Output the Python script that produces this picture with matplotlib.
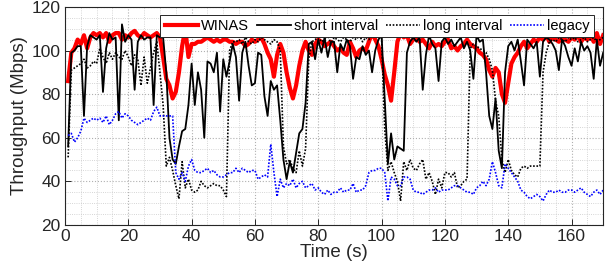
import matplotlib.pyplot as plt
import numpy as np
from matplotlib.ticker import MultipleLocator

plt.rcParams['font.family'] = ['Liberation Sans', 'DejaVu Sans']

time_s = np.arange(1, 171)

winas = [
    86, 99, 101, 105, 103, 107, 101, 106, 108, 107,
    108, 106, 108, 104, 107, 108, 108, 105, 107, 106,
    108, 109, 107, 106, 108, 107, 106, 107, 108, 106,
    97, 87, 84, 78, 81, 90, 102, 110, 97, 103,
    103, 104, 104, 105, 106, 105, 104, 105, 104, 105,
    105, 104, 104, 103, 104, 104, 102, 103, 105, 104,
    105, 106, 103, 99, 96, 88, 98, 103, 99, 90,
    83, 78, 84, 93, 100, 104, 100, 98, 103, 105,
    104, 102, 103, 104, 102, 100, 101, 99, 98, 104,
    101, 97, 100, 101, 100, 104, 108, 105, 102, 96,
    89, 84, 77, 90, 104, 108, 106, 107, 103, 105,
    106, 104, 105, 103, 101, 104, 102, 103, 102, 104,
    105, 101, 102, 100, 102, 103, 105, 103, 102, 101,
    99, 98, 96, 91, 88, 92, 90, 80, 76, 85,
    94, 97, 99, 102, 104, 101, 103, 105, 104, 106,
    105, 107, 104, 106, 105, 104, 107, 105, 104, 106,
    105, 107, 104, 106, 105, 107, 104, 108, 103, 107,
]

short_interval = [
    56, 99, 100, 102, 102, 70, 102, 107, 106, 105,
    107, 81, 101, 108, 105, 106, 68, 112, 104, 107,
    105, 82, 104, 107, 105, 106, 106, 75, 107, 106,
    106, 90, 60, 50, 48, 56, 63, 64, 75, 94,
    75, 90, 82, 60, 95, 94, 90, 99, 72, 96,
    88, 95, 103, 97, 77, 99, 104, 93, 84, 85,
    99, 98, 79, 70, 86, 82, 84, 68, 50, 41,
    49, 44, 53, 62, 64, 76, 103, 104, 96, 105,
    99, 106, 97, 104, 104, 90, 103, 100, 105, 102,
    87, 97, 96, 102, 98, 100, 90, 100, 105, 107,
    77, 48, 62, 50, 56, 55, 54, 99, 104, 106,
    104, 106, 82, 98, 107, 103, 101, 86, 104, 106,
    103, 105, 102, 104, 106, 101, 104, 100, 87, 107,
    104, 105, 90, 70, 64, 78, 54, 46, 90, 102,
    104, 100, 105, 95, 84, 105, 103, 101, 104, 88,
    104, 106, 105, 103, 100, 91, 105, 102, 97, 93,
    101, 95, 104, 100, 102, 99, 87, 105, 93, 99,
]

long_interval = [
    51, 91, 92, 93, 94, 96, 92, 93, 95, 94,
    101, 97, 94, 99, 96, 99, 97, 96, 100, 97,
    93, 98, 96, 84, 97, 85, 92, 99, 104, 90,
    75, 47, 51, 45, 38, 32, 49, 37, 41, 36,
    35, 36, 40, 38, 37, 38, 39, 38, 38, 36,
    33, 100, 104, 104, 105, 103, 106, 104, 103, 105,
    104, 106, 105, 104, 103, 105, 104, 100, 56, 48,
    50, 46, 44, 54, 47, 55, 96, 104, 105, 106,
    104, 105, 107, 103, 106, 105, 104, 106, 105, 104,
    106, 105, 107, 104, 106, 105, 107, 106, 108, 106,
    64, 45, 49, 44, 40, 31, 49, 45, 50, 46,
    45, 48, 50, 41, 44, 40, 34, 41, 37, 44,
    44, 42, 44, 37, 38, 40, 41, 101, 103, 102,
    101, 100, 99, 96, 91, 77, 70, 50, 44, 50,
    45, 43, 42, 46, 47, 46, 47, 47, 47, 47,
    90, 99, 104, 105, 104, 106, 105, 104, 106, 105,
    106, 104, 105, 106, 104, 105, 106, 104, 105, 106,
]

legacy = [
    61, 62, 58, 60, 63, 69, 67, 68, 69, 68,
    69, 67, 70, 66, 68, 71, 72, 69, 71, 70,
    68, 67, 66, 67, 68, 69, 68, 72, 74, 70,
    70, 70, 70, 70, 44, 41, 44, 40, 47, 50,
    45, 44, 44, 45, 46, 44, 45, 43, 42, 42,
    43, 44, 44, 46, 44, 46, 45, 44, 45, 45,
    41, 42, 43, 42, 57, 44, 33, 41, 37, 39,
    38, 41, 37, 39, 40, 37, 38, 39, 36, 37,
    35, 34, 36, 34, 35, 35, 37, 35, 36, 36,
    39, 35, 36, 36, 38, 44, 45, 45, 46, 46,
    44, 31, 42, 41, 38, 38, 42, 42, 41, 36,
    35, 35, 34, 35, 36, 36, 37, 35, 36, 36,
    36, 37, 38, 38, 37, 36, 35, 35, 34, 37,
    38, 40, 38, 41, 49, 44, 38, 37, 48, 46,
    44, 42, 40, 36, 35, 33, 32, 33, 34, 33,
    31, 34, 36, 35, 35, 36, 35, 35, 36, 36,
    35, 36, 37, 35, 34, 33, 35, 36, 34, 36,
]


def plot():
    fig = plt.figure(figsize=(6.13, 2.76), dpi=100)
    ax = fig.add_axes([0.106, 0.185, 0.878, 0.79])

    dots = (0, (1, 1))
    ax.plot(time_s, winas, color='red', lw=3.0, label='WINAS')
    ax.plot(time_s, short_interval, color='black', lw=1.3, label='short interval')
    ax.plot(time_s, long_interval, color='black', lw=1.2, ls=dots, label='long interval')
    ax.plot(time_s, legacy, color='blue', lw=1.2, ls=dots, label='legacy')

    ax.set_xlim(0, 170)
    ax.set_ylim(20, 120)
    ax.xaxis.set_major_locator(MultipleLocator(20))
    ax.yaxis.set_major_locator(MultipleLocator(20))
    ax.xaxis.set_minor_locator(MultipleLocator(5))
    ax.yaxis.set_minor_locator(MultipleLocator(5))
    ax.grid(which='major', color='#b0b0b0', ls=':', lw=0.8)
    ax.grid(which='minor', color='#c8c8c8', ls=':', lw=0.6)
    ax.tick_params(which='both', direction='in', labelsize=12.5, colors='#262626')
    ax.tick_params(which='major', length=4, width=0.7, pad=3)
    ax.tick_params(which='minor', length=0)
    for s in ax.spines.values():
        s.set_color('#262626')
        s.set_linewidth(0.8)

    ax.set_xlabel('Time (s)', fontsize=13.5, color='#262626', labelpad=0)
    ax.set_ylabel('Throughput (Mbps)', fontsize=13.5, color='#262626', labelpad=3)

    leg = ax.legend(loc='upper right', bbox_to_anchor=(0.982, 0.965), ncol=4,
                    fontsize=10.5, frameon=True, fancybox=False, framealpha=1,
                    edgecolor='#262626', handlelength=2.3, handletextpad=0.2,
                    columnspacing=0.55, borderpad=0.3, borderaxespad=0)
    leg.get_frame().set_linewidth(0.7)
    leg.set_zorder(5)

    fig.savefig('out.png', dpi=100)


if __name__ == '__main__':
    plot()
